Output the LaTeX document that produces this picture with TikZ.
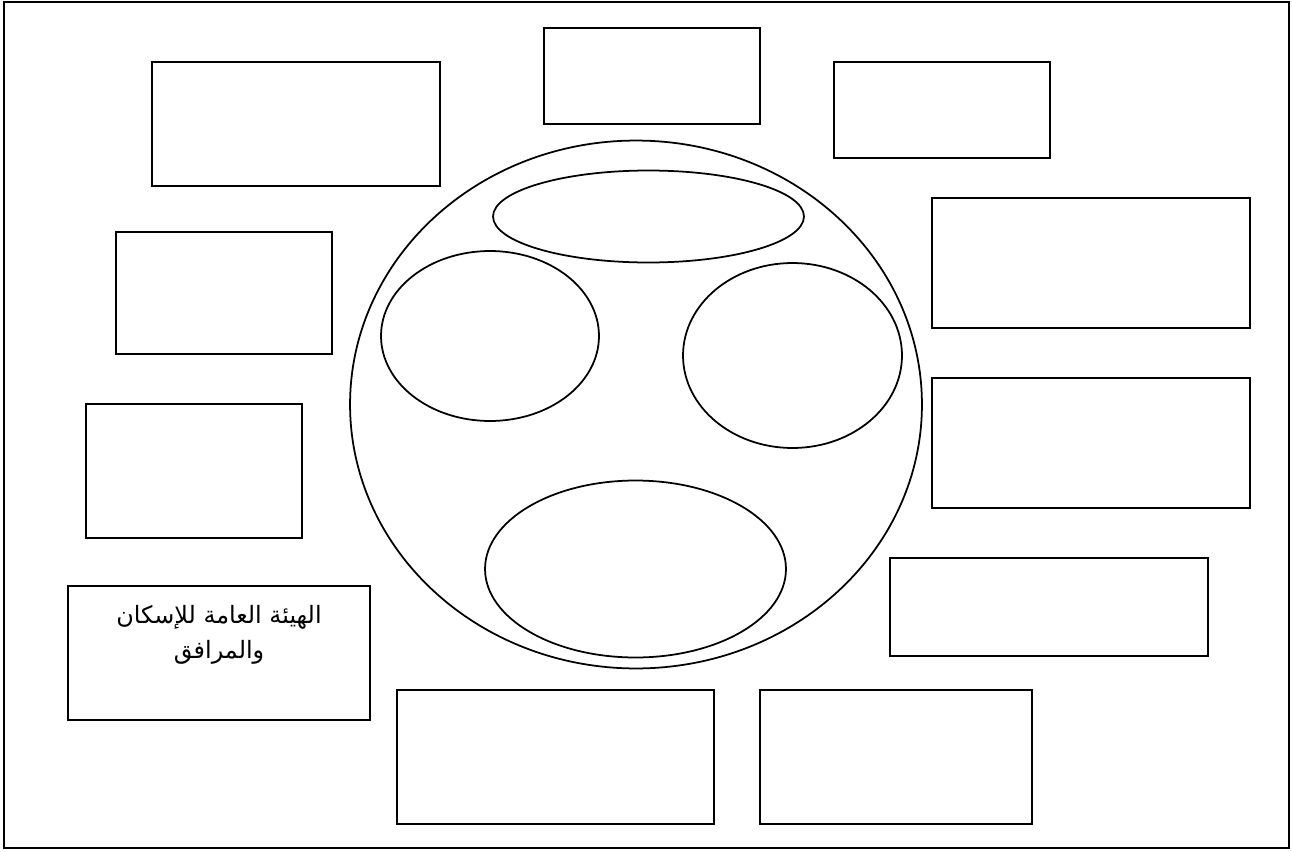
\documentclass[tikz,border=0pt]{standalone}
\usepackage{fontspec}
\newfontfamily\arabicfont[Script=Arabic]{DejaVu Sans}
\TeXXeTstate=1
\usetikzlibrary{shapes.geometric,positioning}

\tikzset{
  box/.style={draw, rectangle, line width=1.1pt, inner sep=0pt},
  blob/.style={draw, ellipse, line width=1pt, inner sep=0pt},
  label/.style={font=\arabicfont\fontsize{13.6}{20}\selectfont, align=center, inner sep=0pt}
}

\begin{document}
\begin{tikzpicture}[x=0.02cm, y=-0.02cm]
  \useasboundingbox (0,0) rectangle (1292,852);
  % Frame
  \node[box, line width=1.4pt, minimum width=25.7cm, minimum height=16.92cm] (frame) at (646.5,425) {};
  % Central circle and its parts
  \node[blob, minimum width=11.44cm, minimum height=10.56cm] (hub) at (636,404.5) {};
  \node[blob, minimum width=6.22cm, minimum height=1.84cm] (hubtop) at (648.5,216.5) {};
  \node[blob, minimum width=4.36cm, minimum height=3.40cm] (hubleft) at (490,336) {};
  \node[blob, minimum width=4.38cm, minimum height=3.70cm] (hubright) at (792.5,355.5) {};
  \node[blob, minimum width=6.02cm, minimum height=3.54cm] (hubbottom) at (635.5,569) {};
  % Boxes around
  \node[box, minimum width=5.76cm, minimum height=2.48cm] (boxa) at (296,124) {};
  \node[box, minimum width=4.32cm, minimum height=1.92cm] (boxb) at (652,76) {};
  \node[box, minimum width=4.32cm, minimum height=1.92cm] (boxc) at (942,110) {};
  \node[box, minimum width=6.36cm, minimum height=2.60cm] (boxd) at (1091,263) {};
  \node[box, minimum width=6.36cm, minimum height=2.60cm] (boxe) at (1091,443) {};
  \node[box, minimum width=6.36cm, minimum height=1.96cm] (boxf) at (1049,607) {};
  \node[box, minimum width=5.44cm, minimum height=2.68cm] (boxg) at (896,757) {};
  \node[box, minimum width=6.34cm, minimum height=2.68cm] (boxh) at (555.5,757) {};
  \node[box, minimum width=4.32cm, minimum height=2.68cm] (boxj) at (194,471) {};
  \node[box, minimum width=4.32cm, minimum height=2.44cm] (boxk) at (224,293) {};
  % Housing authority box
  \node[box, minimum width=6.04cm, minimum height=2.68cm] (housing) at (219,653) {};
  \node[label, below=0.4cm of housing.north] (housingtext)
    {\beginR الهيئة العامة للإسكان\endR\\\beginR والمرافق\endR};
\end{tikzpicture}
\end{document}
